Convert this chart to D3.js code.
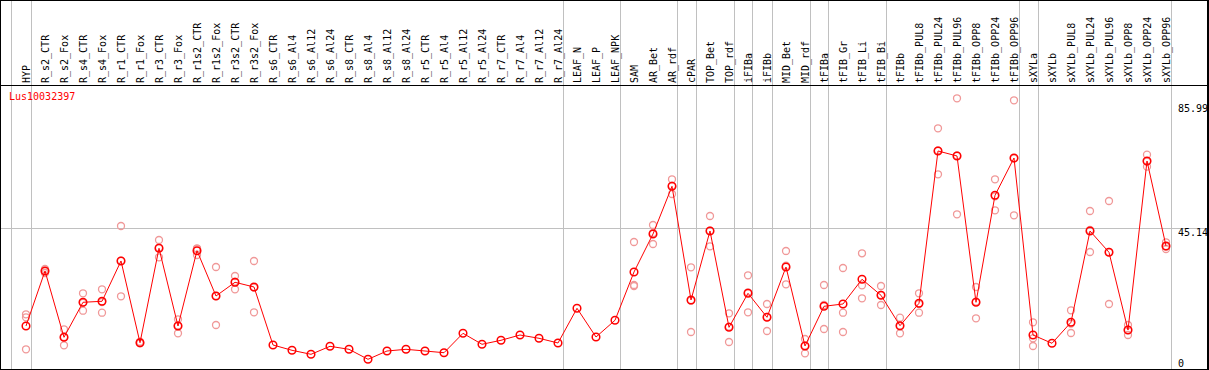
<!DOCTYPE html>
<html>
<head>
<meta charset="utf-8">
<script src="https://cdn.jsdelivr.net/npm/d3@7/dist/d3.min.js"></script>
<style>
  html, body { margin: 0; padding: 0; background: #fff; }
  svg { display: block; }
  text { font-family: "DejaVu Sans Mono", monospace; font-size: 10px; }
</style>
</head>
<body>
<svg id="chart"></svg>
<script>
// sample names (header)
const samples = ["HYP", "R_s2_CTR", "R_s2_Fox", "R_s4_CTR", "R_s4_Fox", "R_r1_CTR", "R_r1_Fox",
  "R_r3_CTR", "R_r3_Fox", "R_r1s2_CTR", "R_r1s2_Fox", "R_r3s2_CTR", "R_r3s2_Fox", "R_s6_CTR",
  "R_s6_Al4", "R_s6_Al12", "R_s6_Al24", "R_s8_CTR", "R_s8_Al4", "R_s8_Al12", "R_s8_Al24",
  "R_r5_CTR", "R_r5_Al4", "R_r5_Al12", "R_r5_Al24", "R_r7_CTR", "R_r7_Al4", "R_r7_Al12",
  "R_r7_Al24", "LEAF_N", "LEAF_P", "LEAF_NPK", "SAM", "AR_Bet", "AR_rdf", "cPAR", "TOP_Bet",
  "TOP_rdf", "iFIBa", "iFIBb", "MID_Bet", "MID_rdf", "tFIBa", "tFIB_Gr", "tFIB_Li", "tFIB_Bi",
  "tFIBb", "tFIBb_PUL8", "tFIBb_PUL24", "tFIBb_PUL96", "tFIBb_OPP8", "tFIBb_OPP24",
  "tFIBb_OPP96", "sXYLa", "sXYLb", "sXYLb_PUL8", "sXYLb_PUL24", "sXYLb_PUL96", "sXYLb_OPP8",
  "sXYLb_OPP24", "sXYLb_OPP96"];

// mean expression per sample
const means = [12.95, 31.07, 9.23, 20.76, 21.09, 34.37, 7.45, 38.55, 12.95, 37.76, 22.83,
  27.35, 25.80, 6.69, 4.94, 3.62, 6.26, 5.27, 1.98, 4.71, 5.27, 4.71, 4.15, 10.54, 6.92,
  8.24, 9.98, 8.90, 7.35, 18.78, 9.32, 14.83, 30.74, 43.26, 58.98, 21.52, 44.25, 12.52,
  23.72, 15.82, 32.39, 6.36, 19.44, 20.20, 28.34, 23.06, 13.05, 20.43, 70.61, 68.96, 20.76,
  56.01, 68.30, 9.98, 7.25, 14.17, 44.25, 37.23, 11.63, 67.31, 39.31];

// replicate values (empty = single value)
const replicates = [
  [16.80, 15.82, 5.27], [31.73, 31.07, 30.41], [11.86, 6.59, 9.32], [23.72, 17.99, 20.56],
  [25.04, 17.33, 20.86], [45.90, 22.73, 34.46], [7.78, 7.25, 7.45], [41.28, 35.58, 38.78],
  [15.16, 10.54, 13.15], [38.55, 36.34, 38.39], [32.39, 13.28, 22.83], [29.42, 25.04, 27.58],
  [34.37, 17.46, 25.57], [], [], [], [], [], [], [], [], [], [], [], [], [], [], [], [], [],
  [], [], [40.63, 26.46, 26.13], [46.23, 39.97, 43.59], [61.28, 56.44, 59.21],
  [32.29, 10.97, 21.28], [49.19, 39.21, 44.35], [17.13, 7.68, 12.75], [29.65, 17.46, 24.05],
  [20.20, 11.30, 15.91], [37.66, 26.69, 32.82], [8.67, 3.95, 6.46], [26.46, 11.96, 19.87],
  [32.06, 17.33, 10.97], [36.90, 26.36, 22.08], [26.13, 19.87, 23.16], [15.68, 10.54, 12.95],
  [23.72, 17.33, 20.20], [78.09, 62.93, 70.81], [87.97, 49.75, 69.16], [25.80, 15.49, 20.99],
  [61.28, 51.07, 55.68], [87.31, 49.42, 68.17], [14.17, 8.90, 6.36], [],
  [18.12, 10.64, 13.74], [50.84, 37.33, 44.58], [54.13, 20.20, 37.33], [13.28, 9.98, 11.63],
  [69.39, 65.44, 67.12], [40.53, 38.32, 39.08]];

// last sample index of each tissue group (-1 = left edge)
const groupEnds = [-1, 0, 28, 31, 34, 35, 37, 38, 39, 41, 42, 45, 52, 53, 60];

const yTicks = [0, 45.14, 85.99];
const gridValues = [45.14];
const geneName = "Lus10032397";

const width = 1209, height = 370;
const headerH = 85;

const svg = d3.select("#chart").attr("width", width).attr("height", height);

const x = d3.scaleLinear().domain([0, samples.length - 1]).range([26, 1166]);
const y = d3.scaleLinear().domain([0, 85.99]).range([365.3, 104.3]);

// group separators
svg.append("g").selectAll("line")
  .data(groupEnds)
  .join("line")
  .attr("x1", d => Math.round(x(d) + 4.5) + 0.5)
  .attr("x2", d => Math.round(x(d) + 4.5) + 0.5)
  .attr("y1", 0).attr("y2", height)
  .attr("stroke", "#c0c0c0");

// horizontal grid
svg.append("g").selectAll("line")
  .data(gridValues)
  .join("line")
  .attr("x1", 0).attr("x2", width)
  .attr("y1", d => Math.round(y(d)) + 0.5)
  .attr("y2", d => Math.round(y(d)) + 0.5)
  .attr("stroke", "#c0c0c0");

// replicates
const repPts = [];
replicates.forEach((r, i) => r.forEach(v => repPts.push({ i, v })));
svg.append("g").selectAll("circle")
  .data(repPts)
  .join("circle")
  .attr("cx", d => x(d.i))
  .attr("cy", d => y(d.v))
  .attr("r", 3.5)
  .attr("fill", "none")
  .attr("stroke", "#f09898")
  .attr("stroke-width", 1.3);

// mean line
const line = d3.line().x((d, i) => x(i)).y(d => y(d));
svg.append("path")
  .datum(means)
  .attr("d", line)
  .attr("fill", "none")
  .attr("stroke", "#ff0000")
  .attr("stroke-width", 1);

svg.append("g").selectAll("circle")
  .data(means)
  .join("circle")
  .attr("cx", (d, i) => x(i))
  .attr("cy", d => y(d))
  .attr("r", 3.8)
  .attr("fill", "none")
  .attr("stroke", "#ff0000")
  .attr("stroke-width", 1.5);

// header labels
svg.append("g").selectAll("text")
  .data(samples)
  .join("text")
  .attr("transform", (d, i) => `translate(${x(i) + 3.5},83) rotate(-90)`)
  .attr("fill", "#000")
  .text(d => d);

// borders
svg.append("line").attr("x1", 0).attr("x2", width).attr("y1", headerH + 0.5).attr("y2", headerH + 0.5).attr("stroke", "#000");
svg.append("line").attr("x1", 0).attr("x2", width).attr("y1", 0.5).attr("y2", 0.5).attr("stroke", "#000");
svg.append("line").attr("x1", 0).attr("x2", width).attr("y1", 369.5).attr("y2", 369.5).attr("stroke", "#000");
svg.append("line").attr("x1", 0.5).attr("x2", 0.5).attr("y1", 0).attr("y2", height).attr("stroke", "#000");
svg.append("line").attr("x1", 1208).attr("x2", 1208).attr("y1", 0).attr("y2", height).attr("stroke", "#000").attr("stroke-width", 2);

// gene name
svg.append("text")
  .attr("x", 9).attr("y", 100)
  .attr("fill", "#ff0000")
  .text(geneName);

// value labels on right
svg.append("g").selectAll("text")
  .data(yTicks)
  .join("text")
  .attr("x", 1178)
  .attr("y", d => Math.min(y(d) + 7.5, 366.5))
  .attr("fill", "#000")
  .text(d => d === 0 ? "0" : d3.format(".2f")(d));
</script>
</body>
</html>
